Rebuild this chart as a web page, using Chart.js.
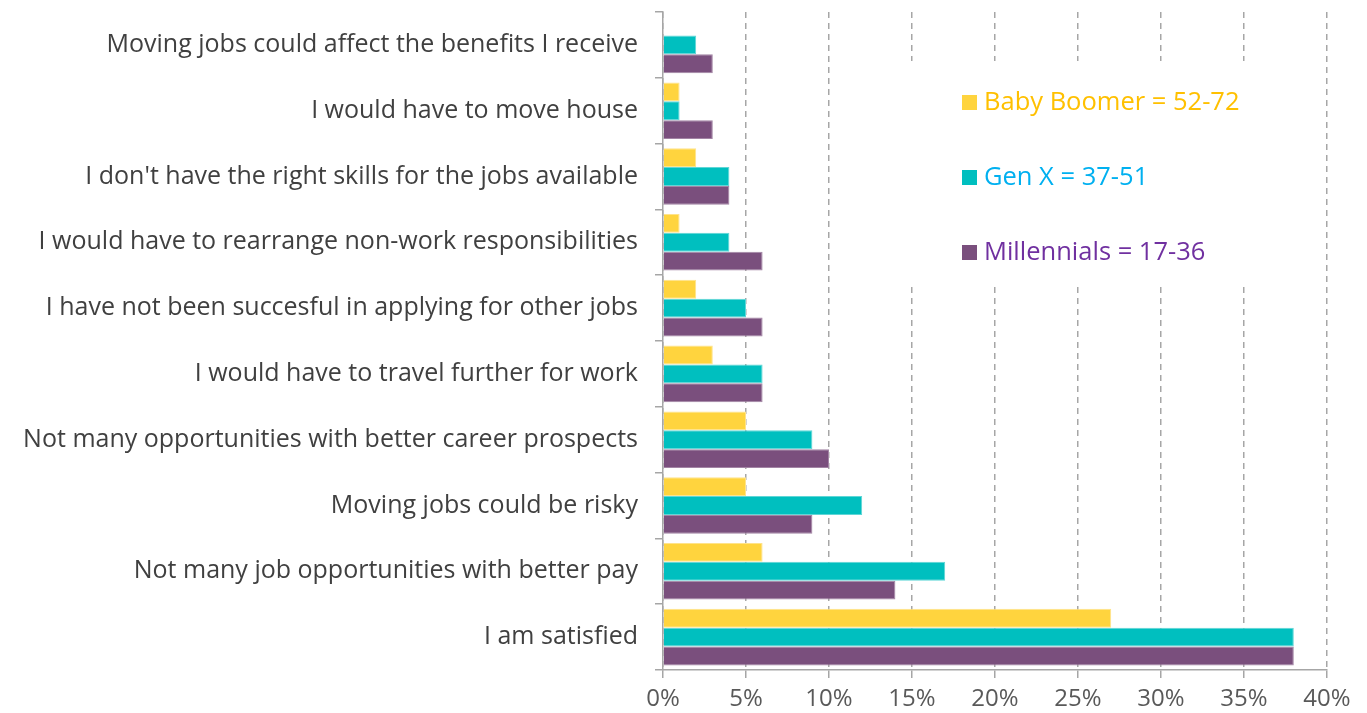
<!DOCTYPE html>
<html>
<head>
<meta charset="utf-8">
<script src="https://cdn.jsdelivr.net/npm/chart.js@4.4.0/dist/chart.umd.min.js"></script>
<style>
  html, body { margin: 0; padding: 0; background: #fff; }
  #wrap { width: 1367px; height: 713px; }
</style>
</head>
<body>
<div id="wrap"><canvas id="grafico"></canvas></div>
<script>
// dados
const categorias = [
  'Moving jobs could affect the benefits I receive',
  'I would have to move house',
  "I don't have the right skills for the jobs available",
  'I would have to rearrange non-work responsibilities',
  'I have not been succesful in applying for other jobs',
  'I would have to travel further for work',
  'Not many opportunities with better career prospects',
  'Moving jobs could be risky',
  'Not many job opportunities with better pay',
  'I am satisfied'
];
const babyBoomer = [0, 1, 2, 1, 2, 3, 5, 5, 6, 27];
const genX = [2, 1, 4, 4, 5, 6, 9, 12, 17, 38];
const millennials = [3, 3, 4, 6, 6, 6, 10, 9, 14, 38];
const rotulosSeries = ['Baby Boomer = 52-72', 'Gen X = 37-51', 'Millennials = 17-36'];
const ticksX = [0, 5, 10, 15, 20, 25, 30, 35, 40];

const coresBarra = ['#FFD43E', '#00BFBF', '#7A4F7D'];
const coresBorda = ['#FFE38A', '#5FD6D6', '#A284A4'];
const coresTexto = ['#FFC000', '#00B0F0', '#7030A0'];

const fonte = "'Open Sans', 'Noto Sans', sans-serif";

// legenda desenhada dentro da área do gráfico com fundo branco
const legendaInterna = {
  id: 'legendaInterna',
  beforeDatasetsDraw(chart) {
    const ctx = chart.ctx;
    ctx.save();
    ctx.fillStyle = '#ffffff';
    ctx.fillRect(902, 61, 418, 226);
    ctx.restore();
  },
  afterDraw(chart) {
    const ctx = chart.ctx;
    ctx.save();
    ctx.font = '25.5px ' + fonte;
    ctx.textBaseline = 'middle';
    rotulosSeries.forEach((txt, i) => {
      const y = 102 + i * 75;
      ctx.fillStyle = coresBarra[i];
      ctx.fillRect(962, y - 7, 15, 15);
      ctx.fillStyle = coresTexto[i];
      ctx.fillText(txt, 984, y + 1);
    });
    ctx.restore();
  }
};

const ctx = document.getElementById('grafico');

new Chart(ctx, {
  type: 'bar',
  data: {
    labels: categorias,
    datasets: [babyBoomer, genX, millennials].map((serie, i) => ({
      label: rotulosSeries[i],
      data: serie,
      backgroundColor: coresBarra[i],
      borderColor: coresBorda[i],
      borderWidth: 1,
      categoryPercentage: 0.86,
      barPercentage: 1
    }))
  },
  options: {
    indexAxis: 'y',
    responsive: true,
    maintainAspectRatio: false,
    animation: false,
    layout: { padding: { top: 12, right: 40, bottom: 0, left: 0 } },
    plugins: {
      legend: { display: false },
      tooltip: { enabled: false }
    },
    scales: {
      x: {
        min: 0,
        max: 40,
        afterBuildTicks(scale) {
          scale.ticks = ticksX.map(v => ({ value: v }));
        },
        afterFit(scale) {
          scale.height = 43;
          scale.paddingLeft = 0;
          scale.paddingRight = 0;
        },
        border: { display: true, color: '#A6A6A6', width: 1.5, dash: [6, 5] },
        grid: {
          color: '#A6A6A6',
          lineWidth: 1.5,
          tickLength: 8,
          tickColor: '#A6A6A6',
          tickBorderDash: []
        },
        ticks: {
          color: '#595959',
          font: { family: fonte, size: 24 },
          padding: 7,
          callback: v => v + '%'
        }
      },
      y: {
        afterFit(scale) {
          scale.width = 663;
          scale.paddingTop = 0;
          scale.paddingBottom = 0;
        },
        border: { display: true, color: '#A6A6A6', width: 1.5 },
        grid: {
          drawOnChartArea: false,
          tickLength: 8,
          color: '#A6A6A6',
          lineWidth: 1.5
        },
        ticks: {
          color: '#404040',
          font: { family: fonte, size: 25 },
          padding: 17
        }
      }
    }
  },
  plugins: [legendaInterna]
});
</script>
</body>
</html>
